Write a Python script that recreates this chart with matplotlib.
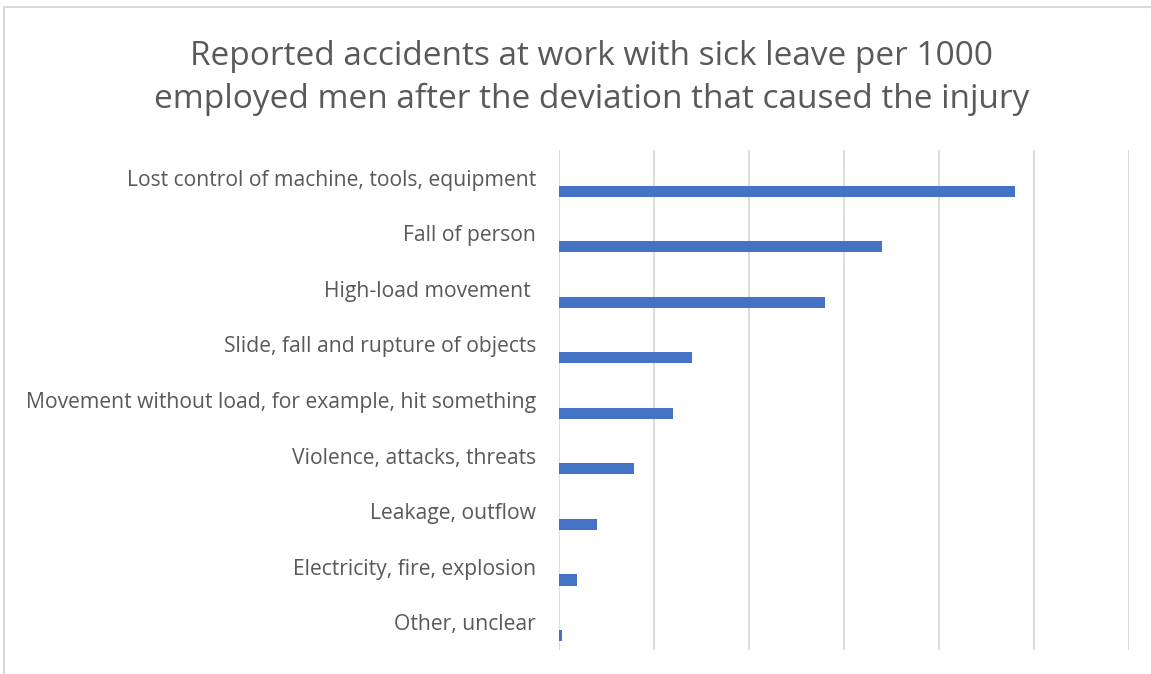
import matplotlib.pyplot as plt
import matplotlib.patches as mpatches
import numpy as np

# data (x in gridline units)
categories = ['Lost control of machine, tools, equipment',
              'Fall of person',
              'High-load movement ',
              'Slide, fall and rupture of objects',
              'Movement without load, for example, hit something',
              'Violence, attacks, threats',
              'Leakage, outflow',
              'Electricity, fire, explosion',
              'Other, unclear']
values = [4.80, 3.40, 2.80, 1.40, 1.20, 0.79, 0.40, 0.19, 0.03]

title = 'Reported accidents at work with sick leave per 1000\nemployed men after the deviation that caused the injury'

text_col = '#595959'
bar_col = '#4472C4'
grid_col = '#D9D9D9'

plt.rcParams['font.family'] = ['Open Sans', 'DejaVu Sans']

fig = plt.figure(figsize=(11.51, 6.74), dpi=100)
W, H = 1151, 674

# chart border (cropped at right and bottom)
fig.patches.append(mpatches.Rectangle((4/W, -0.1), 1.2, 1 - 7/H + 0.1, transform=fig.transFigure,
                                      fill=False, edgecolor='#D9D9D9', lw=1.5))

ax = fig.add_axes([559/W, 1 - 650/H, (1129 - 559)/W, 500/H])
y = np.arange(len(categories))
ax.barh(y + 0.24, values, height=0.2, color=bar_col)
ax.set_xlim(0, 6)
ax.set_ylim(len(categories) - 0.5, -0.5)
ax.set_xticks(np.arange(0, 7))
ax.set_xticklabels([])
ax.grid(axis='x', color=grid_col, lw=1.3)
ax.set_axisbelow(True)
ax.tick_params(length=0)
ax.set_yticks(y)
ax.set_yticklabels(categories, fontsize=15.2, color=text_col)
ax.tick_params(axis='y', pad=16.5)
for s in ax.spines.values():
    s.set_visible(False)

fig.text(592/W, 1 - 78/H, title, ha='center', va='center', fontsize=24,
         color=text_col, linespacing=1.35)

fig.savefig('out.png', dpi=100, facecolor='white')
